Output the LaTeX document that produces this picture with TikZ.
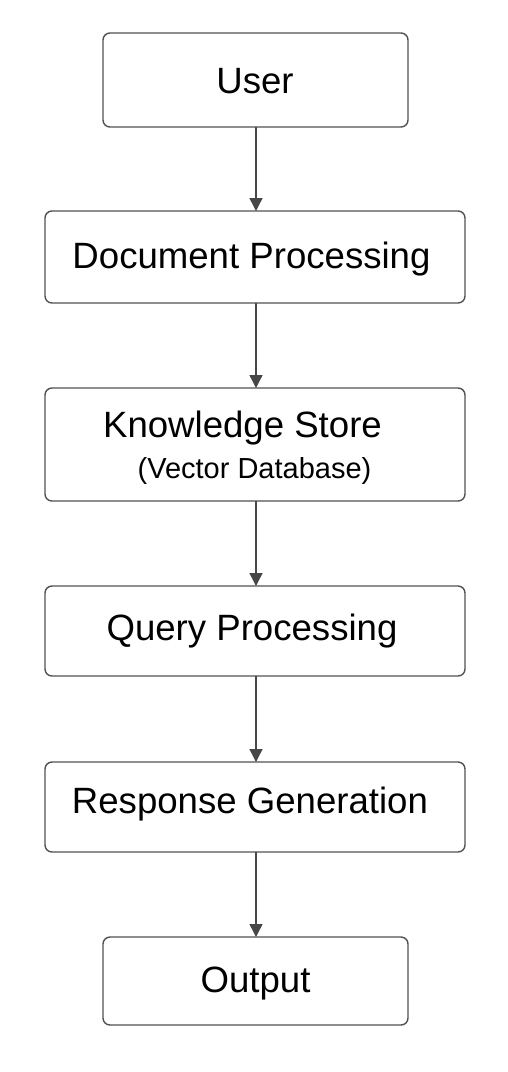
\documentclass[tikz,border=0pt]{standalone}
\usepackage{fontspec}
\setmainfont{Liberation Sans}
\usetikzlibrary{arrows.meta}
\begin{document}
\begin{tikzpicture}[x=1pt,y=-1pt,
  box/.style={draw=black!68, line width=1.4pt, rounded corners=7pt, fill=white, outer sep=0pt, inner sep=0pt},
  lbl/.style={anchor=base, inner sep=0pt, font=\fontsize{36.6}{40}\selectfont},
  sublbl/.style={anchor=base, inner sep=0pt, font=\fontsize{29}{33}\selectfont},
  flow/.style={draw=black!72, line width=1.4pt, -{Triangle[length=13pt,width=13pt]}}]
\fill[white] (0,0) rectangle (508,1072);
\useasboundingbox (0,0) rectangle (508,1072);
\node[box, minimum width=305pt, minimum height=94pt] (user) at (255.5,80) {};
\node[box, minimum width=420pt, minimum height=92pt] (doc) at (255,257) {};
\node[box, minimum width=420pt, minimum height=113pt] (ks) at (255,444.5) {};
\node[box, minimum width=420pt, minimum height=90pt] (query) at (255,631) {};
\node[box, minimum width=420pt, minimum height=90pt] (resp) at (255,807) {};
\node[box, minimum width=305pt, minimum height=88pt] (out) at (255.5,981) {};
\node[lbl] (tuser) at (255,93) {User};
\node[lbl] (tdoc) at (251.5,268) {Document Processing};
\node[lbl] (tks) at (242.5,437) {Knowledge Store};
\node[sublbl] (tvec) at (254.5,478) {(Vector Database)};
\node[lbl] (tquery) at (252,640) {Query Processing};
\node[lbl] (tresp) at (250,813) {Response Generation};
\node[lbl] (tout) at (255.5,992) {Output};
\draw[flow] (user.south -| 256,0) -- (doc.north -| 256,0);
\draw[flow] (doc.south -| 256,0) -- (ks.north -| 256,0);
\draw[flow] (ks.south -| 256,0) -- (query.north -| 256,0);
\draw[flow] (query.south -| 256,0) -- (resp.north -| 256,0);
\draw[flow] (resp.south -| 256,0) -- (out.north -| 256,0);
\end{tikzpicture}
\end{document}
